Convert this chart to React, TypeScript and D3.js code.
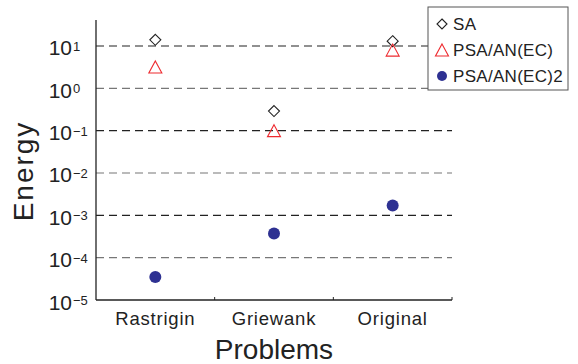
import React from "react";
import * as d3 from "d3";

const categories = ["Rastrigin", "Griewank", "Original"];
const saValues = [14, 0.29, 13];
const psaValues = [3.2, 0.1, 8];
const psa2Values = [3.5e-5, 3.7e-4, 1.7e-3];
const yTickExps = [1, 0, -1, -2, -3, -4, -5];
const seriesNames = ["SA", "PSA/AN(EC)", "PSA/AN(EC)2"];

const FONT = "'Liberation Sans', Arial, sans-serif";

export default function App() {
  const W = 578, H = 364;
  const left = 96, right = 452, top = 20, bottom = 300;
  const y = d3.scaleLog().domain([1e-5, Math.pow(10, 1.614)]).range([bottom, top]);
  const x = d3.scaleBand<string>().domain(categories).range([left, right]).paddingInner(0).paddingOuter(0);
  const cx = (c: string) => (x(c) as number) + x.bandwidth() / 2;
  const diamond = (px: number, py: number, r = 5.5) =>
    `M${px},${py - r}L${px + r},${py}L${px},${py + r}L${px - r},${py}Z`;
  const tri = (px: number, py: number) => {
    const w = 13, h = 12;
    return `M${px},${py - h / 2}L${px + w / 2},${py + h / 2}L${px - w / 2},${py + h / 2}Z`;
  };
  const blue = "#2e3192";
  const red = "#ee2a2f";
  const bandEdges = [...categories.map((c) => x(c) as number), right].slice(1);

  return (
    <svg width={W} height={H} style={{ position: "absolute", left: 0, top: 0 }}>
      <rect width={W} height={H} fill="#fff" />
      {yTickExps.map((e, i) => {
        const yy = y(Math.pow(10, e));
        return (
          <g key={e}>
            {e > -5 && (
              <line x1={left} x2={right} y1={yy} y2={yy}
                stroke={i % 2 === 0 ? "#222" : "#777"} strokeWidth={1.2} strokeDasharray="8,5" />
            )}
            <text x={72} y={yy + 9.5} textAnchor="end" fontFamily={FONT} fontSize={21} fill="#222">10</text>
            <text x={73} y={yy + 5} textAnchor="start" fontFamily={FONT} fontSize={13} fill="#222">
              {e < 0 ? "\u2212" + Math.abs(e) : String(e)}
            </text>
          </g>
        );
      })}
      <line x1={left} x2={left} y1={top} y2={bottom} stroke="#222" strokeWidth={1.3} />
      <line x1={left} x2={right} y1={bottom} y2={bottom} stroke="#222" strokeWidth={1.3} />
      {bandEdges.map((bx, i) => (
        <line key={i} x1={bx} x2={bx} y1={bottom} y2={bottom - 3} stroke="#222" strokeWidth={1} />
      ))}
      {categories.map((c) => (
        <text key={c} x={cx(c)} y={325} textAnchor="middle" fontFamily={FONT} fontSize={18.5} letterSpacing={0.8} fill="#222">{c}</text>
      ))}
      <text x={274} y={359} textAnchor="middle" fontFamily={FONT} fontSize={28} fill="#222">Problems</text>
      <text transform={`translate(33,${171}) rotate(-90)`} textAnchor="middle" fontFamily={FONT} fontSize={28} letterSpacing={2} fill="#222">Energy</text>

      {categories.map((c, i) => (
        <g key={c}>
          <path d={diamond(cx(c), y(saValues[i]))} fill="none" stroke="#222" strokeWidth={1.1} />
          <path d={tri(cx(c), y(psaValues[i]))} fill="none" stroke={red} strokeWidth={1.1} />
          <circle cx={cx(c)} cy={y(psa2Values[i])} r={6} fill={blue} />
        </g>
      ))}

      <g>
        <rect x={428} y={7} width={140} height={83} fill="#fff" stroke="#555" strokeWidth={1} />
        {seriesNames.map((n, i) => {
          const ly = 24 + i * 26;
          return (
            <g key={n}>
              {i === 0 && <path d={diamond(442, ly, 5)} fill="none" stroke="#222" strokeWidth={1.1} />}
              {i === 1 && <path d={tri(442, ly)} fill="none" stroke={red} strokeWidth={1.1} />}
              {i === 2 && <circle cx={442} cy={ly} r={5} fill={blue} />}
              <text x={453} y={ly + 6} fontFamily={FONT} fontSize={17} letterSpacing={0.3} fill="#222">{n}</text>
            </g>
          );
        })}
      </g>
    </svg>
  );
}
